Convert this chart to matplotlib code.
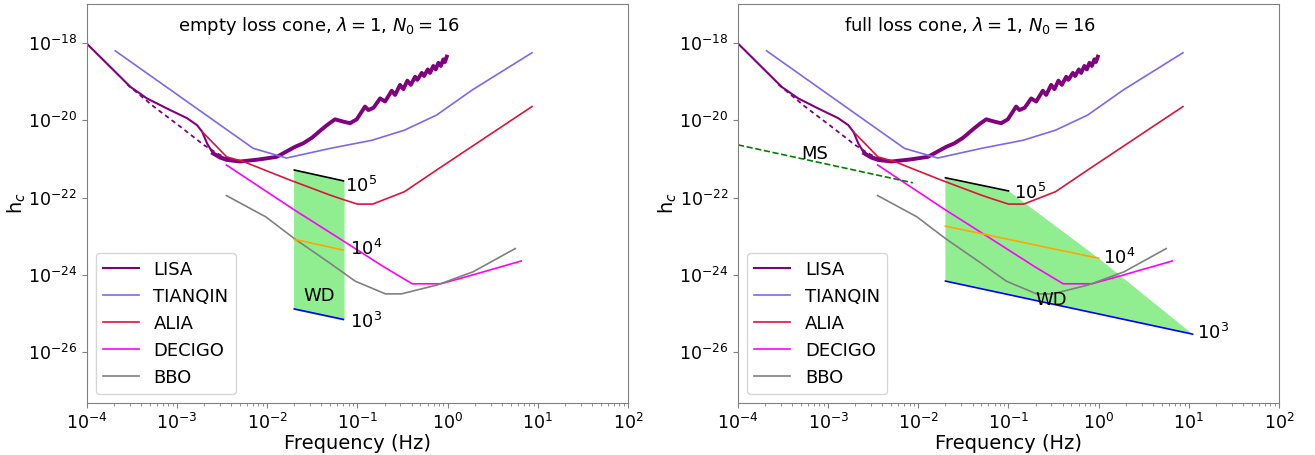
import numpy as np
import matplotlib
matplotlib.use("Agg")
import matplotlib.pyplot as plt

# all curves stored as log10 values
lisa_logf = [-4.0, -3.516, -3.331, -3.11, -2.888, -2.777, -2.72, -2.666, -2.61, -2.537, -2.445, -2.30]
lisa_logh = [-18.02, -19.14, -19.44, -19.70, -19.95, -20.13, -20.30, -20.60, -20.82, -20.93, -20.99, -21.07]

lisa_dash_logf = [-3.55, -3.257, -2.962, -2.703, -2.555, -2.445]
lisa_dash_logh = [-19.08, -19.65, -20.17, -20.64, -20.86, -20.99]

lisa_hf_logf = [-2.60, -2.52, -2.445, -2.30, -2.10, -1.894, -1.69, -1.60, -1.50, -1.40, -1.32, -1.247,
                -1.155, -1.081, -1.007, -0.915, -0.878, -0.82, -0.748, -0.693, -0.619, -0.582,
                -0.527, -0.49, -0.446, -0.408, -0.36, -0.335, -0.286, -0.26, -0.22, -0.194,
                -0.158, -0.131, -0.102, -0.075, -0.047, -0.03, -0.009]
lisa_hf_logh = [-20.86, -20.97, -21.03, -21.07, -21.02, -20.95, -20.69, -20.60, -20.45, -20.25, -20.10, -19.98,
                -20.04, -20.08, -19.98, -19.65, -19.74, -19.68, -19.44, -19.52, -19.24, -19.35,
                -19.09, -19.20, -18.98, -19.09, -18.88, -18.96, -18.78, -18.86, -18.69, -18.78,
                -18.60, -18.69, -18.52, -18.60, -18.43, -18.50, -18.36]

tianqin_logf = [-3.683, -2.154, -1.785, -1.30, -0.836, -0.478, -0.122, 0.274, 0.935]
tianqin_logh = [-18.21, -20.73, -20.98, -20.73, -20.52, -20.26, -19.87, -19.22, -18.26]

alia_logf = [-2.72, -2.448, -2.264, -1.93, -1.746, -1.30, -1.16, -1.00, -0.83, -0.478, -0.122, 0.935]
alia_logh = [-20.30, -20.95, -21.07, -21.38, -21.55, -21.94, -22.05, -22.17, -22.17, -21.85, -21.29, -19.65]

decigo_logf = [-2.451, -1.699, -1.144, -0.708, -0.392, -0.075, 0.203, 0.817]
decigo_logh = [-21.16, -22.32, -23.14, -23.79, -24.23, -24.23, -24.05, -23.64]

bbo_logf = [-2.451, -2.015, -1.699, -1.302, -1.025, -0.689, -0.511, -0.115, 0.282, 0.749]
bbo_logh = [-21.95, -22.50, -23.06, -23.70, -24.16, -24.49, -24.49, -24.26, -23.92, -23.32]

# WD lines, empty loss cone
e_f = [0.02, 0.07]
e_h5 = [-21.29, -21.57]
e_h4 = [-23.08, -23.36]
e_h3 = [-24.88, -25.15]

# WD lines, full loss cone
f_f5 = [0.02, 0.1]
f_h5 = [-21.49, -21.83]
f_f4 = [0.02, 1.0]
f_h4 = [-22.74, -23.57]
f_f3 = [0.02, 11.0]
f_h3 = [-24.16, -25.53]

# main sequence line
ms_f = [1e-4, 8.7e-3]
ms_logh = [-20.64, -21.62]

plt.rcParams["axes.edgecolor"] = "grey"
plt.rcParams["xtick.color"] = "grey"
plt.rcParams["ytick.color"] = "grey"
plt.rcParams["xtick.labelcolor"] = "black"
plt.rcParams["ytick.labelcolor"] = "black"

p = lambda a: 10 ** np.array(a)

fig = plt.figure(figsize=(13.15, 4.55), dpi=100)
ax1 = fig.add_axes([0.0659, 0.1143, 0.4117, 0.8769])
ax2 = fig.add_axes([0.5612, 0.1143, 0.4114, 0.8769])


def detectors(ax):
    ax.plot(p(lisa_logf), p(lisa_logh), color="purple", lw=1.5, label="LISA")
    ax.plot(p(lisa_dash_logf), p(lisa_dash_logh), color="purple", lw=1.3, ls=(0, (2.5, 2)))
    ax.plot(p(lisa_hf_logf), p(lisa_hf_logh), color="purple", lw=2.8)
    ax.plot(p(tianqin_logf), p(tianqin_logh), color="mediumslateblue", lw=1.2, label="TIANQIN")
    ax.plot(p(alia_logf), p(alia_logh), color="crimson", lw=1.2, label="ALIA")
    ax.plot(p(decigo_logf), p(decigo_logh), color="magenta", lw=1.2, label="DECIGO")
    ax.plot(p(bbo_logf), p(bbo_logh), color="grey", lw=1.2, label="BBO")


def style(ax, title):
    ax.set_xscale("log")
    ax.set_yscale("log")
    ax.set_xlim(1e-4, 1e2)
    ax.set_ylim(4.9e-28, 1e-17)
    ax.set_yticks([1e-26, 1e-24, 1e-22, 1e-20, 1e-18])
    ax.yaxis.set_minor_locator(matplotlib.ticker.NullLocator())
    ax.tick_params(labelsize=12.5)
    ax.set_xlabel("Frequency (Hz)", fontsize=14, labelpad=1)
    ax.set_ylabel(r"h$_c$", fontsize=14, labelpad=0)
    ax.text(0.43, 0.945, title, transform=ax.transAxes, ha="center", va="center", fontsize=13)
    ax.legend(loc="lower left", fontsize=13)


# empty loss cone
detectors(ax1)
ax1.fill_between(e_f, p(e_h3), p(e_h5), color="lightgreen", zorder=0.5)
ax1.plot(e_f, p(e_h5), color="black", lw=1.2)
ax1.plot(e_f, p(e_h4), color="orange", lw=1.2)
ax1.plot(e_f, p(e_h3), color="blue", lw=1.2)
ax1.text(0.0725, 10 ** -21.70, r"$10^5$", fontsize=13, va="center")
ax1.text(0.082, 10 ** -23.32, r"$10^4$", fontsize=13, va="center")
ax1.text(0.082, 10 ** -25.21, r"$10^3$", fontsize=13, va="center")
ax1.text(0.0376, 10 ** -24.54, "WD", fontsize=13, ha="center", va="center")
style(ax1, r"empty loss cone, $\lambda=1$, $N_0=16$")

# full loss cone
detectors(ax2)
poly_f = [f_f3[0], f_f5[0], f_f5[1], f_f4[1], f_f3[1]]
poly_h = [f_h3[0], f_h5[0], f_h5[1], f_h4[1], f_h3[1]]
ax2.fill(poly_f, p(poly_h), color="lightgreen", zorder=0.5, lw=0)
ax2.plot(f_f5, p(f_h5), color="black", lw=1.2)
ax2.plot(f_f4, p(f_h4), color="orange", lw=1.2)
ax2.plot(f_f3, p(f_h3), color="blue", lw=1.2)
ax2.plot(ms_f, p(ms_logh), color="green", lw=1.2, ls="--")
ax2.text(0.115, 10 ** -21.89, r"$10^5$", fontsize=13, va="center")
ax2.text(1.12, 10 ** -23.57, r"$10^4$", fontsize=13, va="center")
ax2.text(12.3, 10 ** -25.51, r"$10^3$", fontsize=13, va="center")
ax2.text(0.30, 10 ** -24.66, "WD", fontsize=13, ha="center", va="center")
ax2.text(7.1e-4, 10 ** -20.88, "MS", fontsize=13, ha="center", va="center")
style(ax2, r"full loss cone, $\lambda=1$, $N_0=16$")

fig.savefig("out.png", dpi=100)
